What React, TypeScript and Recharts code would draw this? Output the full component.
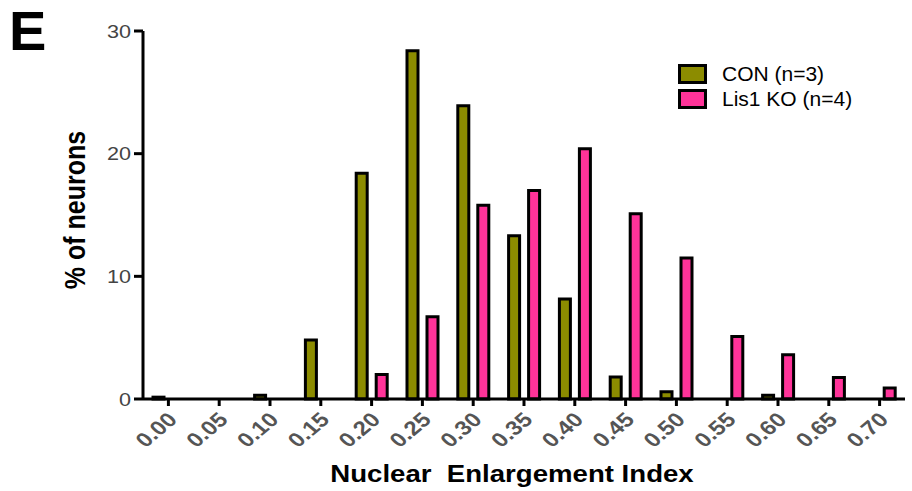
import React from "react";
import { BarChart, Bar, XAxis, YAxis, Legend, Label } from "recharts";

const categories = ["0.00","0.05","0.10","0.15","0.20","0.25","0.30","0.35","0.40","0.45","0.50","0.55","0.60","0.65","0.70"];
const conValues = [0.15, 0, 0.3, 4.8, 18.4, 28.4, 23.9, 13.3, 8.15, 1.8, 0.6, 0, 0.3, 0, 0];
const koValues = [0, 0, 0, 0, 2.0, 6.7, 15.8, 17.0, 20.4, 15.1, 11.5, 5.1, 3.6, 1.75, 0.9];
const yTicks = [0, 10, 20, 30];
const seriesNames = { con: "CON (n=3)", ko: "Lis1 KO (n=4)" };
const colors = { con: "#8C8C00", ko: "#FF3399" };

const data = categories.map((c, i) => ({ cat: c, con: conValues[i], ko: koValues[i] }));

const FONT = "'Liberation Sans', Arial, Helvetica, sans-serif";
const SX = 1.2;

const XTick = (props: any) => {
  const { x, y, payload } = props;
  return (
    <text
      transform={`translate(${x + 10},${y + 13}) scale(${SX},1) rotate(-45)`}
      textAnchor="end"
      fontFamily={FONT}
      fontWeight="bold"
      fontSize={20}
      fill="#555"
    >
      {payload.value}
    </text>
  );
};

const YTick = (props: any) => {
  const { x, y, payload } = props;
  return (
    <text
      transform={`translate(${x},${y + 6.5}) scale(${SX},1)`}
      textAnchor="end"
      fontFamily={FONT}
      fontSize={18}
      fill="#444"
    >
      {payload.value}
    </text>
  );
};

const LegendContent = () => (
  <div style={{ fontFamily: FONT, fontSize: 21, color: "#000", lineHeight: "24px" }}>
    {(["con", "ko"] as const).map((k) => (
      <div key={k} style={{ display: "flex", alignItems: "center", height: 25 }}>
        <span
          style={{
            display: "inline-block",
            width: 23,
            height: 14,
            background: colors[k],
            border: "3px solid #000",
            marginRight: 15,
          }}
        />
        <span>{seriesNames[k]}</span>
      </div>
    ))}
  </div>
);

export default function App() {
  return (
    <div style={{ position: "absolute", left: 0, top: 0, width: 912, height: 491, background: "#fff" }}>
      <svg width={80} height={70} style={{ position: "absolute", left: 0, top: 0 }}>
        <text x={9} y={50} fontFamily={FONT} fontWeight="bold" fontSize={56} fill="#000">
          E
        </text>
      </svg>
      <BarChart
        width={912}
        height={491}
        data={data}
        margin={{ top: 31, right: 7, bottom: 32, left: 83 }}
        barSize={11}
        barGap={9}
      >
        <XAxis
          dataKey="cat"
          height={60}
          axisLine={{ stroke: "#000", strokeWidth: 3 }}
          tickLine={{ stroke: "#000", strokeWidth: 3 }}
          tickSize={7}
          tick={<XTick />}
          interval={0}
        >
          <Label
            content={() => (
              <text
                transform={`translate(512,482) scale(${SX},1)`}
                textAnchor="middle"
                fontFamily={FONT}
                fontWeight="bold"
                fontSize={23}
                fill="#000"
                style={{ whiteSpace: "pre" }}
              >
                {"Nuclear  Enlargement Index"}
              </text>
            )}
          />
        </XAxis>
        <YAxis
          width={60}
          domain={[0, 30]}
          ticks={yTicks}
          axisLine={{ stroke: "#000", strokeWidth: 3 }}
          tickLine={{ stroke: "#000", strokeWidth: 3 }}
          tickSize={9}
          tickMargin={3}
          tick={<YTick />}
        >
          <Label
            content={() => (
              <text
                transform={`translate(85,210) scale(${SX},1) rotate(-90)`}
                textAnchor="middle"
                fontFamily={FONT}
                fontWeight="bold"
                fontSize={25}
                fill="#000"
              >
                % of neurons
              </text>
            )}
          />
        </YAxis>
        <Legend
          layout="vertical"
          align="center"
          verticalAlign="middle"
          content={<LegendContent />}
          wrapperStyle={{ position: "absolute", left: 678, top: 61, width: 210, height: 50 }}
        />
        <Bar dataKey="con" name={seriesNames.con} fill={colors.con} stroke="#000" strokeWidth={3} isAnimationActive={false} />
        <Bar dataKey="ko" name={seriesNames.ko} fill={colors.ko} stroke="#000" strokeWidth={3} isAnimationActive={false} />
      </BarChart>
    </div>
  );
}
